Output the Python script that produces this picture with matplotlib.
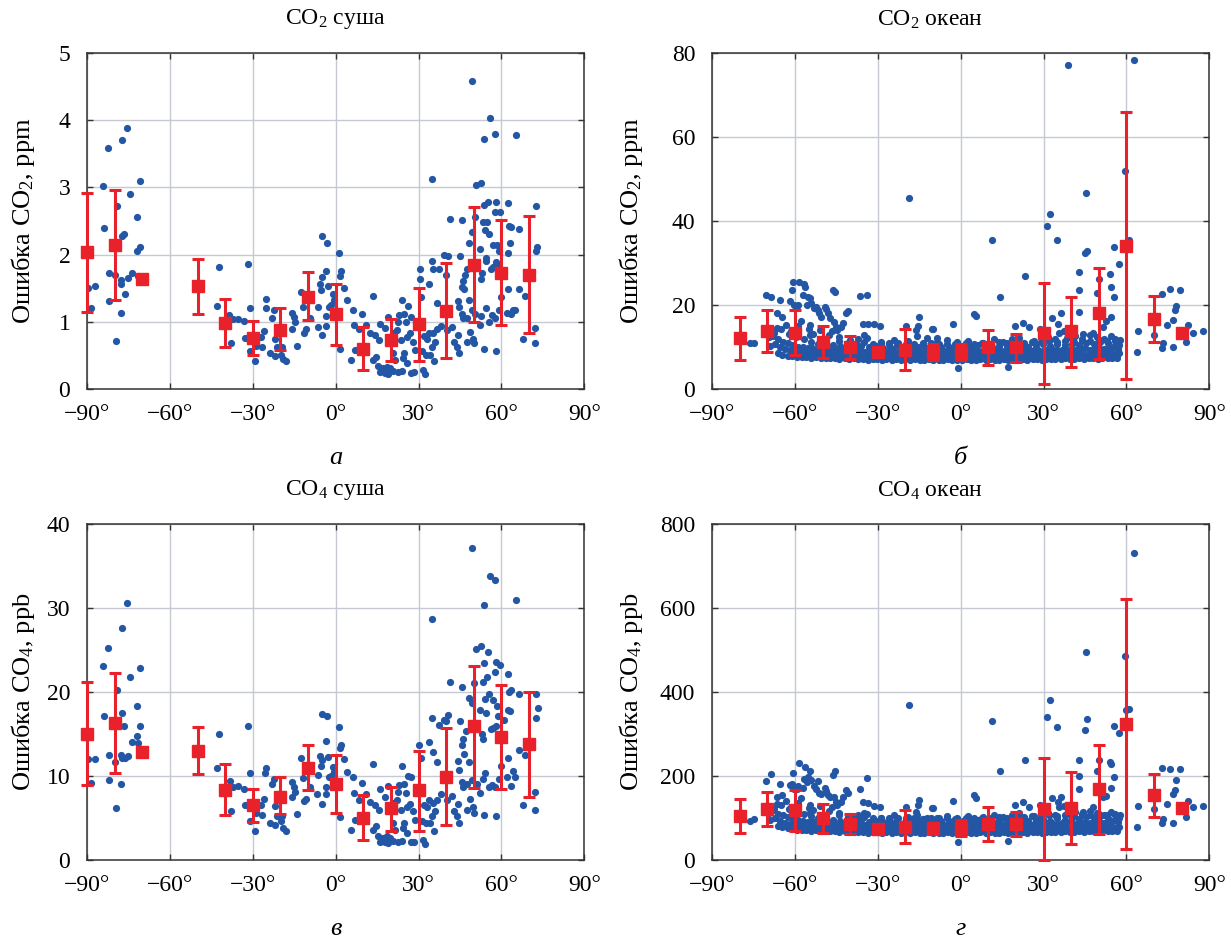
import numpy as np
import matplotlib
matplotlib.use("Agg")
import matplotlib.pyplot as plt

plt.rcParams['font.family'] = ['Liberation Serif', 'DejaVu Serif']
plt.rcParams['mathtext.fontset'] = 'custom'
plt.rcParams['mathtext.rm'] = 'Liberation Serif'
plt.rcParams['mathtext.it'] = 'Liberation Serif:italic'

BLUE = '#2356a5'
RED = '#e8212b'

# ---------------- land: CO2 (а) ----------------
land_lat_a = [-89.5, -87.2, -88.4, -84.1, -82.3, -84.0, -82.0, -82.0, -79.6, -79.0,
              -79.8, -77.8, -77.6, -77.8, -77.2, -76.8, -77.2, -75.7, -76.3, -75.1,
              -74.6, -73.9, -71.9, -71.9, -70.8, -70.8, -71.5, -68.9, -42.2, -42.8,
              -38.6, -37.8, -37.2, -35.5, -33.1, -31.8, -31.0, -32.8, -31.0, -29.3,
              -29.0, -26.9, -26.6, -25.8, -25.4, -25.4, -23.7, -22.1, -23.2, -22.5,
              -22.1, -21.3, -19.3, -19.7, -19.1, -18.1, -15.8, -15.2, -14.7, -15.8,
              -14.0, -12.7, -11.8, -11.4, -10.8, -9.4, -6.4, -6.5, -5.8, -5.4,
              -5.0, -5.0, -3.6, -3.1, -4.9, -3.6, -3.5, -2.8, -2.4,
              49.2, 56.0, 57.8, 53.8, 65.1, 34.9, 50.8, 52.6, 53.7, 55.1,
              58.0, 62.3, 72.5, 57.7, 59.6, 41.3, 45.8, 50.3, 53.2, 54.6,
              54.2, 55.6, 62.6, 63.5, 66.5, 49.2, 48.1, 52.2, 57.0, 58.5,
              63.1, 59.0, 62.3, 73.0, 72.5, 39.2, 40.8, 45.0, 34.9, 35.3,
              30.6, 30.5, 33.8, 37.5, 39.8, 47.4, 46.8, 46.0, 45.6, 46.4,
              54.3, 54.3, 52.8, 52.6, 56.8, 58.0, 58.6, 56.2, 62.5, 59.8,
              66.2, 68.6, 30.9, 36.6, 44.2, 44.5, 48.4, 54.3, 49.2, 50.4,
              52.7, 56.4, 57.6, 61.9, 63.3, 64.3, 65.0, 59.2, 45.7, 46.0,
              47.4, 52.1, 55.4, 67.7, 72.3, 72.1, 53.7, 58.1, 48.5, 49.8,
              50.0, 47.5, 44.4, 43.8, 44.6, 42.9, 42.0, 40.2, 38.0, 36.8,
              35.3, 35.8, 35.0, 34.1, 35.7, 32.7, 33.1, 33.9, 31.8, 31.2,
              31.6, 32.2, 28.7, 28.1, 26.9, 27.1, 26.3, 24.1, 24.7, 25.3,
              23.0, 22.4, 22.1, 23.6, 25.7, 24.7, 25.7, 24.5, 27.1, 28.3,
              24.1, 22.4, 20.6, 19.1, 17.9, 16.0, 15.4, 17.0, 18.7, 19.7,
              21.5, 20.9, 20.6, 19.1, 18.0, 16.0, 15.6, 14.2, 14.6, 13.6,
              12.5, 13.4, 11.1, 9.4, 8.6, 7.1, 6.4, 6.8, 5.4, 4.1,
              2.9, 1.6, 1.8, 1.6, 1.2, -0.5, -1.0, -1.7]
land_co2 = [1.51, 1.53, 1.20, 3.02, 3.58, 2.40, 1.73, 1.31, 0.71, 2.73,
            1.69, 1.62, 1.57, 1.13, 2.28, 2.30, 3.71, 3.88, 1.41, 1.65,
            2.90, 1.72, 2.56, 2.06, 2.11, 3.10, 1.68, 1.63, 1.81, 1.24,
            1.10, 0.69, 1.04, 1.04, 1.01, 1.86, 1.21, 0.76, 0.56, 0.41,
            0.64, 0.78, 0.63, 0.87, 1.34, 1.20, 0.53, 0.49, 1.06, 1.18,
            0.74, 0.62, 0.62, 0.51, 0.44, 0.41, 1.13, 1.07, 1.00, 0.90,
            0.64, 1.44, 1.22, 0.84, 0.90, 1.05, 1.22, 0.92, 1.57, 1.48,
            1.66, 2.27, 1.75, 2.17, 0.81, 1.08, 0.94, 1.54, 1.22,
            4.58, 4.03, 3.80, 3.72, 3.78, 3.12, 3.04, 3.06, 2.74, 2.79,
            2.78, 2.77, 2.73, 2.64, 2.63, 2.53, 2.51, 2.56, 2.48, 2.48,
            2.36, 2.31, 2.42, 2.41, 2.38, 2.34, 2.17, 2.09, 2.15, 2.15,
            2.17, 2.05, 2.03, 2.12, 2.06, 1.99, 1.98, 1.98, 1.91, 1.79,
            1.78, 1.64, 1.56, 1.79, 1.69, 1.78, 1.69, 1.61, 1.52, 1.49,
            1.95, 1.91, 1.72, 1.64, 1.82, 1.89, 1.85, 1.79, 1.49, 1.37,
            1.49, 1.39, 1.37, 1.28, 1.31, 1.22, 1.32, 1.20, 1.17, 1.12,
            1.09, 1.10, 1.06, 1.13, 1.11, 1.18, 1.18, 1.18, 1.12, 1.06,
            1.05, 0.96, 1.00, 0.74, 0.68, 0.91, 0.59, 0.57, 0.85, 0.75,
            0.68, 0.70, 0.80, 0.63, 0.53, 0.70, 0.93, 0.88, 0.94, 0.89,
            0.84, 0.70, 0.63, 0.51, 0.41, 0.51, 0.75, 0.83, 0.79, 0.56,
            0.28, 0.22, 0.58, 0.70, 0.83, 1.07, 1.23, 1.32, 1.12, 0.99,
            1.10, 1.00, 0.88, 0.73, 0.78, 0.53, 0.38, 0.46, 0.24, 0.25,
            0.27, 0.26, 0.27, 0.23, 0.24, 0.26, 0.34, 0.31, 0.33, 0.31,
            0.43, 0.53, 0.84, 1.07, 0.91, 0.97, 0.73, 0.80, 0.48, 0.43,
            0.84, 1.39, 0.95, 1.12, 0.90, 0.58, 1.17, 0.96, 0.43, 1.33,
            1.50, 0.59, 1.75, 1.68, 2.02, 1.33, 1.42, 1.25]

# ---------------- land: CH4 (в) ----------------
land_lat_c = [-89.5, -87.2, -88.4, -84.1, -82.3, -84.0, -82.0, -82.0, -79.6, -79.0,
              -79.8, -77.8, -77.5, -77.8, -77.2, -76.8, -77.2, -75.7, -76.3, -75.1,
              -74.6, -73.9, -71.9, -71.9, -70.8, -70.8, -71.5, -68.9, -42.2, -42.8,
              -38.4, -37.8, -37.2, -35.5, -33.1, -31.8, -31.0, -32.8, -31.0, -29.3,
              -29.0, -26.9, -26.6, -25.8, -25.4, -25.6, -23.7, -22.1, -23.2, -22.5,
              -22.1, -21.3, -19.3, -19.7, -19.1, -18.1, -15.8, -15.2, -14.7, -15.8,
              -14.0, -12.7, -11.8, -11.4, -10.8, -9.4, -6.4, -6.8, -5.8, -5.4,
              -5.0, -5.0, -3.6, -3.1, -4.9, -3.6, -3.5, -2.8, -2.4,
              49.2, 56.0, 57.8, 53.8, 65.1, 34.9, 50.8, 52.6, 55.3, 58.0,
              59.5, 53.8, 57.7, 62.3, 41.3, 45.8, 50.2, 53.2, 54.6, 54.2,
              55.4, 57.0, 62.6, 63.5, 66.5, 72.5, 73.2, 72.5, 48.1, 49.2,
              52.2, 54.3, 58.5, 62.3, 63.1, 60.9, 58.8, 39.2, 40.6, 45.0,
              34.9, 35.3, 30.2, 33.9, 37.5, 39.8, 47.1, 46.2, 45.8, 46.6,
              52.8, 53.2, 56.8, 58.2, 56.2, 62.5, 59.8, 66.2, 68.6, 30.9,
              36.6, 44.2, 44.5, 48.4, 54.2, 49.2, 51.0, 53.2, 56.4, 57.6,
              61.9, 63.3, 64.3, 65.0, 59.2, 45.7, 46.2, 47.4, 52.1, 55.4,
              67.7, 72.3, 72.1, 53.7, 58.1, 48.5, 49.8, 50.0, 47.5, 44.4,
              43.8, 44.6, 42.9, 42.0, 40.2, 38.0, 36.8, 35.3, 35.8, 35.0,
              34.1, 35.7, 32.7, 33.1, 33.9, 31.8, 31.2, 31.6, 32.2, 28.7,
              28.1, 26.9, 27.1, 26.3, 24.1, 24.7, 25.3, 23.0, 22.4, 22.1,
              23.6, 25.7, 24.7, 25.7, 24.5, 27.1, 28.3, 24.1, 22.4, 20.6,
              19.1, 17.9, 16.0, 15.4, 17.0, 18.7, 19.7, 21.5, 20.9, 20.6,
              19.1, 18.0, 16.0, 15.6, 14.2, 14.6, 13.6, 12.5, 13.4, 11.1,
              9.4, 8.6, 7.1, 6.4, 6.8, 5.4, 4.1, 2.9, 1.6, 1.8,
              1.6, 1.2, -0.5, -1.0, -1.7]
land_ch4 = [12.0, 12.0, 9.2, 23.1, 25.2, 17.1, 12.5, 9.5, 6.2, 20.2,
            11.7, 12.5, 12.2, 9.1, 17.5, 16.0, 27.6, 30.6, 12.2, 12.4,
            21.8, 14.1, 18.3, 14.8, 15.9, 22.8, 13.9, 13.1, 15.0, 11.0,
            9.4, 5.8, 8.7, 8.8, 8.5, 16.0, 10.3, 6.5, 4.6, 3.5,
            5.6, 6.5, 5.4, 7.3, 10.9, 10.3, 4.4, 4.2, 9.0, 9.6,
            6.4, 5.2, 5.2, 4.6, 3.8, 3.4, 9.3, 8.7, 8.1, 7.5,
            5.5, 12.1, 9.8, 7.0, 7.3, 8.7, 10.1, 7.9, 12.4, 11.2,
            11.9, 17.4, 14.2, 17.1, 6.7, 8.7, 7.9, 12.3, 9.9,
            37.2, 33.8, 33.3, 30.4, 31.0, 28.7, 25.1, 25.5, 24.8, 23.6,
            23.2, 23.4, 22.4, 22.2, 21.2, 20.6, 21.1, 21.2, 21.8, 19.2,
            19.8, 19.1, 20.0, 20.2, 19.8, 19.8, 18.1, 16.9, 19.3, 18.7,
            17.9, 17.5, 18.3, 17.9, 17.7, 16.7, 17.1, 16.7, 17.3, 16.5,
            16.9, 12.8, 13.7, 14.0, 16.1, 16.6, 15.4, 14.4, 13.7, 12.6,
            15.0, 14.4, 15.7, 15.9, 15.6, 12.2, 11.2, 13.1, 12.5, 12.2,
            11.7, 11.8, 10.7, 11.7, 10.3, 9.5, 9.0, 9.6, 8.9, 8.7,
            9.9, 8.8, 10.6, 9.9, 9.6, 9.3, 8.7, 9.0, 8.0, 8.7,
            6.5, 6.0, 8.1, 5.4, 5.2, 7.3, 6.3, 5.6, 6.0, 6.7,
            5.2, 4.4, 5.8, 7.6, 7.1, 7.9, 7.2, 6.8, 5.8, 5.2,
            4.4, 3.5, 4.4, 6.3, 7.1, 6.5, 4.7, 2.4, 1.9, 4.8,
            5.8, 6.7, 9.9, 10.0, 11.2, 9.0, 8.0, 8.9, 8.1, 7.2,
            6.0, 6.3, 4.4, 3.2, 3.8, 2.1, 2.1, 2.3, 2.2, 2.3,
            2.0, 2.1, 2.2, 2.9, 2.6, 2.8, 2.6, 3.6, 4.4, 6.8,
            8.8, 7.5, 8.4, 6.0, 6.5, 4.0, 3.6, 6.9, 11.4, 7.9,
            9.2, 7.2, 4.8, 9.9, 8.0, 3.6, 10.5, 12.0, 5.1, 13.7,
            13.3, 15.8, 10.5, 11.1, 10.0]

# ---------------- land: zonal means with spread ----------------
land_bin = [-90, -80, -70, -50, -40, -30, -20, -10, 0, 10, 20, 30, 40, 50, 60, 70]
land_co2_mid = [2.04, 2.15, 1.64, 1.53, 0.98, 0.76, 0.88, 1.37, 1.12, 0.60, 0.73, 0.97, 1.16, 1.85, 1.73, 1.70]
land_co2_lo = [1.15, 1.33, 1.64, 1.11, 0.63, 0.51, 0.58, 1.02, 0.66, 0.28, 0.42, 0.42, 0.46, 0.99, 0.96, 0.83]
land_co2_hi = [2.91, 2.96, 1.64, 1.93, 1.34, 1.01, 1.21, 1.74, 1.57, 0.92, 1.04, 1.51, 1.88, 2.71, 2.51, 2.57]
land_ch4_mid = [15.0, 16.3, 12.8, 13.0, 8.3, 6.5, 7.5, 11.0, 9.0, 5.0, 6.2, 8.3, 9.9, 15.9, 14.7, 13.8]
land_ch4_lo = [8.9, 10.4, 12.8, 10.2, 5.4, 4.5, 5.5, 8.3, 5.6, 2.4, 3.5, 3.5, 4.2, 8.6, 8.5, 7.5]
land_ch4_hi = [21.2, 22.3, 12.8, 15.8, 11.4, 8.5, 9.9, 13.7, 12.5, 7.7, 8.7, 13.0, 15.7, 23.1, 20.8, 20.0]

# ---------------- ocean: scattered points (б, г share latitudes) ----------------
ocean_lat_out = [-18.6, -76.2, -74.8, -70.6, -68.6, -65.4, -66.6, -64.8, -60.8, -58.4,
                 -56.7, -56.4, -61.2, -57.0, -55.2, -54.6, -61.8, -60.5, -59.4, -59.0,
                 -55.5, -54.0, -53.1, -52.2, -51.6, -49.2, -51.2, -48.8, -48.0, -47.4,
                 -50.6, -54.6, -54.8, -54.4, -46.2, -45.6, -46.0, -45.0, -44.6, -46.4,
                 -41.4, -40.8, -42.6, -43.2, -36.6, -33.8, -35.4, -33.6, -31.4, -29.1,
                 -35.0, -19.8, -15.6, -15.0, -16.0, -10.2, -15.9, -12.3, -8.4,
                 38.7, 62.6, 59.4, 45.4, 32.5, 31.3, 34.8, 11.4, 60.8, 60.0,
                 55.6, 45.6, 45.0, 57.2, 23.3, 42.7, 54.2, 42.9, 54.4, 55.4,
                 50.2, 49.2, 14.1, 73.0, 75.7, 79.3, 77.8, 77.5, 76.9, 74.5,
                 82.4, 84.1, 87.7, 81.5, 70.0, 73.1, 72.9, 76.7, 64.3, 64.0,
                 56.4, 57.4, 56.2, 54.4, 43.0, 36.3, 33.1, 35.3, 35.5, 4.7,
                 5.7, -2.8, 22.5, 19.5, 24.7, 28.8, -10.0, -1.0, 17.3, 51.4,
                 48.0, 37.5, 44.2, 52.6]
ocean_co2_out = [45.4, 11.0, 11.0, 22.4, 21.8, 21.2, 18.2, 17.2, 25.6, 25.4,
                 25.0, 24.4, 23.6, 22.4, 22.0, 21.6, 21.0, 20.0, 19.8, 20.0,
                 20.0, 20.4, 19.2, 19.6, 18.8, 19.6, 18.2, 19.0, 18.0, 16.8,
                 17.2, 15.2, 14.4, 12.9, 23.6, 23.0, 16.0, 14.8, 14.0, 13.7,
                 18.0, 18.6, 15.8, 14.8, 22.1, 22.4, 15.4, 15.4, 15.4, 15.1,
                 12.9, 15.0, 15.0, 17.1, 14.0, 14.2, 12.7, 12.1, 12.1,
                 77.1, 78.3, 52.0, 46.7, 41.7, 38.9, 35.4, 35.5, 35.5, 34.5,
                 33.7, 32.9, 32.5, 29.8, 26.9, 27.8, 27.5, 23.6, 24.2, 21.8,
                 26.1, 22.9, 22.0, 22.6, 23.7, 23.6, 19.8, 18.7, 16.4, 15.2,
                 15.2, 13.3, 13.8, 11.3, 12.8, 10.9, 9.7, 9.9, 13.7, 8.7,
                 10.5, 10.5, 8.1, 17.1, 18.4, 18.0, 16.8, 15.6, 13.4, 17.9,
                 17.4, 15.6, 15.8, 15.0, 14.7, 14.2, 14.2, 4.9, 5.3, 14.8,
                 13.3, 13.9, 13.1, 16.2]
ocean_ch4_out = [369, 94, 97, 187, 204, 181, 151, 155, 206, 232,
                 194, 222, 180, 171, 198, 213, 178, 170, 168, 175,
                 185, 190, 175, 168, 187, 171, 160, 165, 155, 151,
                 158, 131, 123, 112, 202, 213, 151, 139, 131, 125,
                 167, 160, 149, 138, 169, 196, 137, 135, 129, 127,
                 112, 127, 131, 144, 115, 123, 108, 100, 98,
                 820, 730, 486, 496, 381, 341, 316, 332, 360, 357,
                 319, 336, 310, 302, 238, 238, 233, 201, 229, 197,
                 238, 213, 213, 218, 216, 217, 190, 167, 157, 133,
                 141, 125, 129, 103, 121, 97, 89, 89, 129, 78,
                 103, 99, 75, 171, 168, 151, 147, 139, 127, 155,
                 147, 141, 139, 131, 125, 131, 123, 44, 46, 149,
                 127, 129, 115, 152]

# dense band of ocean points, row by row
band_lat_a = [-66.2, -64.5, -62.6, -61.0, -59.3, -57.5, -55.9, -54.1, -52.4, -50.5,
              -48.8, -47.3, -45.4, -43.9, -42.0, -40.5, -38.6, -37.1, -35.2, -33.7,
              -31.8, -30.3, -28.4, -26.9, -25.0, -23.5, -21.6, -20.1, -18.2, -16.7,
              -14.8, -13.3, -11.4, -9.9, -8.0, -6.5, -4.6, -3.1, -1.2, 0.5,
              2.2, 3.7, 5.6, 7.1, 9.0, 10.5, 12.4, 13.9, 15.8, 17.3,
              19.2, 20.7, 22.6, 24.1, 26.0, 27.5, 29.4, 30.9, 32.8, 34.3,
              36.2, 37.7, 39.6, 41.1, 43.0, 44.5, 46.4, 47.9, 49.8, 51.3,
              53.2, 54.7, 56.6]
band_co2_a = [8.6, 8.2, 7.9, 7.8, 7.7, 7.6, 7.7, 7.5, 7.6, 7.4,
              7.5, 7.3, 7.4, 7.2, 7.3, 7.2, 7.3, 7.1, 7.2, 7.0,
              7.1, 7.2, 7.0, 7.1, 7.0, 7.2, 6.9, 7.1, 7.0, 7.1,
              7.0, 6.9, 7.1, 7.0, 6.9, 7.0, 7.1, 6.9, 7.0, 6.9,
              7.1, 7.0, 6.9, 7.1, 7.0, 7.1, 6.9, 7.0, 7.1, 7.0,
              7.1, 7.0, 7.1, 7.0, 7.2, 7.1, 7.0, 7.2, 7.1, 7.2,
              7.1, 7.3, 7.2, 7.1, 7.3, 7.2, 7.4, 7.3, 7.2, 7.4,
              7.3, 7.5, 7.4]
band_ch4_a = [82, 78, 75, 73, 72, 71, 72, 70, 71, 69,
              70, 68, 69, 67, 68, 67, 68, 66, 67, 65,
              66, 67, 65, 66, 65, 66, 64, 66, 65, 66,
              65, 64, 66, 65, 64, 65, 66, 64, 65, 64,
              66, 65, 64, 66, 65, 66, 64, 65, 66, 65,
              66, 65, 66, 65, 67, 66, 65, 67, 66, 67,
              66, 68, 67, 66, 68, 67, 69, 68, 67, 69,
              68, 70, 69]

band_lat_b = [-68.9, -67.1, -65.3, -63.6, -61.8, -60.1, -58.2, -56.6, -54.8, -53.0,
              -51.3, -49.6, -47.9, -46.1, -44.5, -42.8, -41.0, -39.3, -37.7, -35.9,
              -34.2, -32.5, -30.8, -29.1, -27.4, -25.7, -24.1, -22.3, -20.7, -18.9,
              -17.3, -15.6, -13.9, -12.2, -10.5, -8.8, -7.2, -5.4, -3.8, -2.0,
              -0.3, 1.4, 3.0, 4.8, 6.4, 8.1, 9.8, 11.5, 13.2, 14.9,
              16.6, 18.3, 20.0, 21.7, 23.4, 25.1, 26.7, 28.5, 30.1, 31.8,
              33.5, 35.2, 36.9, 38.6, 40.3, 42.0, 43.7, 45.4, 47.1, 48.8,
              50.5, 52.2, 53.9, 55.6, 57.3]
band_co2_b = [10.2, 10.6, 9.9, 9.6, 9.3, 9.1, 8.9, 8.8, 8.7, 8.6,
              8.5, 8.6, 8.4, 8.3, 8.5, 8.2, 8.3, 8.1, 8.2, 8.0,
              8.2, 8.1, 7.9, 8.0, 8.2, 7.9, 8.1, 8.0, 7.8, 8.0,
              8.1, 7.9, 8.0, 7.8, 8.1, 8.0, 7.9, 8.1, 7.8, 8.0,
              7.9, 8.1, 8.0, 7.9, 8.2, 8.0, 7.9, 8.1, 8.0, 8.2,
              8.0, 8.1, 7.9, 8.2, 8.0, 8.3, 8.1, 8.0, 8.2, 8.4,
              8.1, 8.3, 8.2, 8.4, 8.1, 8.3, 8.5, 8.2, 8.4, 8.6,
              8.3, 8.5, 8.7, 8.4, 8.6]
band_ch4_b = [95, 99, 92, 89, 86, 84, 82, 81, 80, 79,
              78, 79, 77, 76, 78, 75, 76, 74, 75, 73,
              75, 74, 72, 73, 75, 72, 74, 73, 71, 73,
              74, 72, 73, 71, 74, 73, 72, 74, 71, 73,
              72, 74, 73, 72, 75, 73, 72, 74, 73, 75,
              73, 74, 72, 75, 73, 76, 74, 73, 75, 77,
              74, 76, 75, 77, 74, 76, 78, 75, 77, 79,
              76, 78, 80, 77, 79]

band_lat_c = [-67.8, -66.0, -64.2, -62.4, -60.7, -59.0, -57.1, -55.4, -53.7, -51.9,
              -50.1, -48.4, -46.7, -45.0, -43.3, -41.6, -39.9, -38.1, -36.4, -34.7,
              -33.0, -31.3, -29.6, -27.9, -26.2, -24.5, -22.8, -21.2, -19.4, -17.7,
              -16.0, -14.3, -12.7, -11.0, -9.3, -7.6, -5.9, -4.2, -2.6, -0.9,
              0.9, 2.6, 4.3, 6.0, 7.7, 9.3, 11.0, 12.8, 14.4, 16.1,
              17.8, 19.6, 21.2, 22.9, 24.7, 26.4, 28.0, 29.8, 31.4, 33.1,
              34.8, 36.6, 38.3, 39.9, 41.7, 43.4, 45.1, 46.8, 48.4, 50.2,
              51.9, 53.5, 55.2, 56.9]
band_co2_c = [12.6, 11.8, 11.3, 10.9, 10.4, 10.1, 9.9, 9.7, 9.8, 9.5,
              9.4, 9.6, 9.3, 9.2, 9.4, 9.1, 9.3, 9.0, 9.2, 8.9,
              9.1, 9.0, 8.8, 9.1, 8.9, 9.2, 8.8, 9.0, 9.1, 8.9,
              9.2, 8.9, 9.0, 9.1, 8.8, 9.2, 9.0, 8.9, 9.1, 9.0,
              9.1, 8.9, 9.2, 9.0, 9.1, 8.9, 9.2, 9.0, 9.3, 9.1,
              9.0, 9.2, 9.1, 9.3, 9.0, 9.2, 9.4, 9.1, 9.3, 9.5,
              9.2, 9.4, 9.3, 9.6, 9.2, 9.5, 9.7, 9.4, 9.6, 9.8,
              9.5, 9.7, 9.9, 9.6]
band_ch4_c = [118, 110, 106, 102, 98, 95, 93, 91, 92, 89,
              88, 90, 87, 86, 88, 85, 87, 84, 86, 83,
              85, 84, 82, 85, 83, 86, 82, 84, 85, 83,
              86, 83, 84, 85, 82, 86, 84, 83, 85, 84,
              85, 83, 86, 84, 85, 83, 86, 84, 87, 85,
              84, 86, 85, 87, 84, 86, 88, 85, 87, 89,
              86, 88, 87, 90, 86, 89, 91, 88, 90, 92,
              89, 91, 93, 90]

band_lat_d = [-65.0, -62.1, -59.6, -56.8, -54.3, -51.7, -48.9, -46.3, -43.7, -41.2,
              -38.5, -35.9, -33.2, -30.6, -28.1, -25.4, -22.9, -20.3, -17.5, -15.0,
              -12.4, -9.6, -7.1, -4.4, -1.8, 1.0, 3.5, 6.2, 8.7, 11.4,
              14.0, 16.7, 19.3, 21.9, 24.5, 27.2, 29.7, 32.4, 35.0, 37.6,
              40.2, 42.8, 45.5, 48.1, 50.6, 53.3, 55.8]
band_co2_d = [14.2, 13.1, 12.4, 11.9, 11.3, 10.8, 10.9, 10.5, 10.2, 10.4,
              10.0, 10.3, 9.9, 10.2, 9.8, 10.1, 10.4, 9.9, 10.2, 10.0,
              9.8, 10.3, 10.0, 10.1, 9.9, 10.2, 10.0, 10.4, 9.9, 10.1,
              10.3, 10.0, 10.2, 10.5, 10.1, 10.4, 10.6, 10.2, 10.7, 10.4,
              10.8, 10.5, 11.0, 10.7, 11.2, 10.9, 11.4]
band_ch4_d = [132, 122, 116, 110, 104, 99, 100, 96, 94, 96,
              92, 95, 91, 94, 90, 93, 96, 91, 94, 92,
              90, 95, 92, 93, 91, 94, 92, 96, 91, 93,
              95, 92, 94, 97, 93, 96, 98, 94, 99, 96,
              100, 97, 102, 99, 104, 101, 106]

band_lat_e = [-69.5, -67.6, -66.4, -63.2, -61.4, -58.7, -57.9, -53.4, -50.9, -47.6,
              -44.2, -40.1, -37.3, -34.0, -29.0, -26.0, -24.0, -19.0, -13.5, -8.5,
              -5.0, -1.5, 2.8, 7.9, 12.0, 15.5, 18.5, 21.0, 26.5, 31.5,
              34.0, 38.5, 41.5, 44.0, 46.8, 49.5, 52.0, 54.5, 57.8]
band_co2_e = [12.5, 13.4, 14.6, 15.2, 13.8, 14.9, 16.3, 13.2, 14.1, 12.8,
              12.3, 11.6, 11.9, 12.2, 11.3, 11.0, 11.7, 11.4, 10.9, 11.2,
              11.6, 11.1, 11.5, 11.0, 11.8, 11.3, 11.9, 12.2, 11.5, 12.4,
              11.8, 12.1, 12.6, 12.0, 12.8, 12.3, 11.9, 12.6, 11.7]
band_ch4_e = [112, 121, 134, 140, 126, 136, 148, 120, 128, 116,
              111, 104, 108, 110, 101, 99, 106, 103, 98, 101,
              105, 100, 104, 99, 107, 102, 108, 111, 104, 113,
              107, 110, 115, 109, 117, 112, 108, 115, 106]

band_lat_f = [-44.0, -40.9, -37.8, -34.9, -31.9, -28.9, -25.9, -22.8, -19.9, -16.8,
              -13.8, -10.9, -7.9, -4.9, -1.9, 1.9, 4.9, 8.0, 10.9, 13.9,
              16.9, 20.0, 22.9, 25.9, 28.9, 31.9, 35.0, 37.9, 40.9, 43.9,
              46.9, 49.9, 52.9, 55.9]
band_co2_f = [11.4, 11.0, 10.8, 11.1, 10.7, 10.9, 10.6, 10.9, 10.7, 10.8,
              10.6, 10.9, 10.7, 10.8, 10.6, 10.9, 10.7, 11.0, 10.8, 11.1,
              10.9, 11.2, 11.0, 11.3, 11.1, 11.4, 11.2, 11.5, 11.3, 11.6,
              11.4, 11.7, 11.5, 11.8]
band_ch4_f = [106, 102, 100, 103, 99, 101, 98, 101, 99, 100,
              98, 101, 99, 100, 98, 101, 99, 102, 100, 103,
              101, 104, 102, 105, 103, 106, 104, 107, 105, 108,
              106, 109, 107, 110]

# ---------------- ocean: zonal means with spread ----------------
ocean_bin = [-80, -70, -60, -50, -40, -30, -20, -10, 0, 10, 20, 30, 40, 50, 60, 70, 80]
ocean_co2_mid = [12.1, 13.7, 13.4, 11.3, 9.9, 8.7, 9.4, 8.7, 8.9, 9.9, 9.9, 13.3, 13.7, 18.0, 34.0, 16.7, 13.4]
ocean_co2_lo = [6.9, 8.7, 8.1, 7.3, 7.1, 7.7, 4.5, 6.9, 6.9, 5.7, 6.5, 1.3, 5.3, 7.1, 2.3, 11.3, 13.4]
ocean_co2_hi = [17.2, 18.7, 18.8, 15.1, 12.7, 9.7, 14.4, 10.7, 10.7, 14.0, 13.1, 25.2, 21.8, 28.9, 65.9, 22.1, 13.4]
ocean_ch4_mid = [105, 121, 119, 99, 86, 74, 79, 75, 75, 86, 86, 121, 123, 168, 325, 155, 123]
ocean_ch4_lo = [65, 81, 70, 65, 63, 65, 41, 62, 57, 46, 56, 0, 38, 62, 25, 103, 123]
ocean_ch4_hi = [146, 162, 167, 133, 110, 83, 119, 89, 95, 125, 115, 242, 209, 274, 621, 205, 123]

lat_ticks = [-90, -60, -30, 0, 30, 60, 90]


def deg_label(v):
    """Tick text like −60° with a true minus sign."""
    return ("\u2212%d\u00b0" % abs(v)) if v < 0 else "%d\u00b0" % v


def draw_panel(rect, lat, val, b_lat, b_mid, b_lo, b_hi, ymax, ystep, ylabel, title, title_x, letter, ylab_x):
    ax = fig.add_axes(rect)
    ax.set_xlim(-90, 90)
    ax.set_ylim(0, ymax)
    ax.set_xticks(lat_ticks)
    ax.set_xticklabels([deg_label(v) for v in lat_ticks])
    ax.set_yticks(np.arange(0, ymax + ystep / 2, ystep))
    ax.grid(True, color='#c6c8d2', linewidth=1.0)
    ax.set_axisbelow(True)
    ax.tick_params(direction='in', length=4, width=1, top=True, right=True,
                   labelsize=17, color='#333333')
    ax.tick_params(axis='x', pad=11)
    ax.tick_params(axis='y', pad=12)
    for s in ax.spines.values():
        s.set_color('#333333')
        s.set_linewidth(1.1)

    # individual points
    ax.scatter(lat, val, s=27, color=BLUE, linewidths=0, zorder=2)

    # zonal means with spread
    mid = np.array(b_mid, dtype=float)
    err = [mid - np.array(b_lo), np.array(b_hi) - mid]
    ax.errorbar(b_lat, mid, yerr=err, fmt='s', color=RED, ms=8, elinewidth=2.2,
                capsize=4.5, capthick=2.2, zorder=3, clip_on=False)

    ax.set_ylabel(ylabel, fontsize=19)
    ax.yaxis.set_label_coords(ylab_x, 0.5)
    ax.text(title_x, 1.10, title, transform=ax.transAxes, ha='center', va='center', fontsize=17)
    ax.text(0.5, -0.205, letter, transform=ax.transAxes, ha='center', va='center',
            fontsize=19, style='italic')
    return ax


fig = plt.figure(figsize=(12.31, 9.41), dpi=100)

ocean_lat = ocean_lat_out + band_lat_a + band_lat_b + band_lat_c + band_lat_d + band_lat_e + band_lat_f
ocean_co2 = ocean_co2_out + band_co2_a + band_co2_b + band_co2_c + band_co2_d + band_co2_e + band_co2_f
ocean_ch4 = ocean_ch4_out + band_ch4_a + band_ch4_b + band_ch4_c + band_ch4_d + band_ch4_e + band_ch4_f

left_l, left_r, w = 0.0707, 0.5784, 0.4040
top_b, bot_b, h = 0.5866, 0.0861, 0.357

draw_panel([left_l, top_b, w, h], land_lat_a, land_co2, land_bin, land_co2_mid, land_co2_lo, land_co2_hi,
           5, 1, "Ошибка CO$_2$, ppm", "CO$_2$ суша", 0.5, "а", -0.100)
draw_panel([left_r, top_b, w, h], ocean_lat, ocean_co2, ocean_bin, ocean_co2_mid, ocean_co2_lo, ocean_co2_hi,
           80, 20, "Ошибка CO$_2$, ppm", "CO$_2$ океан", 0.438, "б", -0.135)
draw_panel([left_l, bot_b, w, h], land_lat_c, land_ch4, land_bin, land_ch4_mid, land_ch4_lo, land_ch4_hi,
           40, 10, "Ошибка CO$_4$, ppb", "CO$_4$ суша", 0.5, "в", -0.100)
draw_panel([left_r, bot_b, w, h], ocean_lat, ocean_ch4, ocean_bin, ocean_ch4_mid, ocean_ch4_lo, ocean_ch4_hi,
           800, 200, "Ошибка CO$_4$, ppb", "CO$_4$ океан", 0.438, "г", -0.135)

fig.savefig("out.png", dpi=100)
